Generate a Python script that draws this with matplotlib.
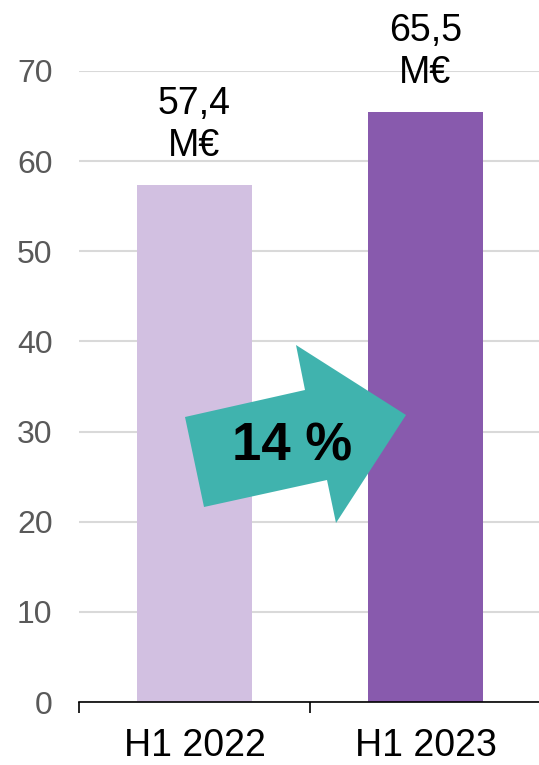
import matplotlib
matplotlib.use("Agg")
import matplotlib.pyplot as plt
from matplotlib.patches import Polygon

plt.rcParams["font.family"] = ["Liberation Sans", "DejaVu Sans"]

# Data
periods = ["H1 2022", "H1 2023"]
revenue = [57.4, 65.5]
value_labels = ["57,4\nM€", "65,5\nM€"]
growth_label = "14 %"
yticks = [0, 10, 20, 30, 40, 50, 60, 70]

bar_colors = ["#D2C0E1", "#885AAD"]
arrow_color = "#40B3AE"

fig = plt.figure(figsize=(5.39, 7.65), dpi=100)
ax = fig.add_axes([79 / 539, 63 / 765, 462 / 539, 631 / 765])

x = list(range(len(periods)))
ax.bar(x, revenue, width=0.5, color=bar_colors, zorder=2)
ax.set_xlim(-0.5, 1.5)
ax.set_ylim(0, 70)

# grid + axes styling
ax.set_yticks(yticks)
ax.yaxis.grid(True, color="#D9D9D9", linewidth=1.5, zorder=0)
ax.set_axisbelow(True)
for s in ["top", "right", "left"]:
    ax.spines[s].set_visible(False)
ax.spines["bottom"].set_color("black")
ax.spines["bottom"].set_linewidth(1.2)
ax.spines["bottom"].set_zorder(3)
ax.tick_params(axis="y", length=0, pad=19, labelsize=23, labelcolor="#595959")

ax.set_xticks(x)
ax.set_xticklabels(periods)
ax.tick_params(axis="x", which="major", length=0, pad=19, labelsize=27)
ax.set_xticks([-0.5, 0.5, 1.5], minor=True)
ax.tick_params(axis="x", which="minor", length=8, width=1.2, color="black")

# value labels on top of bars
for xi, v, lab in zip(x, revenue, value_labels):
    ax.annotate(lab, (xi, v), xytext=(0, 15), textcoords="offset points",
                ha="center", va="bottom", fontsize=27, linespacing=1.2,
                annotation_clip=False)

# growth arrow (figure pixel coordinates)
pts = [(185, 417), (204, 507), (327, 480), (336, 523), (406, 415), (296, 345), (305, 390)]
poly = Polygon([(px / 539, 1 - py / 765) for px, py in pts], closed=True,
               transform=fig.transFigure, facecolor=arrow_color, edgecolor="none", zorder=5)
fig.patches.append(poly)
fig.text(292 / 539, 1 - 446 / 765, growth_label, ha="center", va="center",
         fontsize=38, fontweight="bold", color="black", zorder=6)

fig.savefig("out.png", dpi=100)
